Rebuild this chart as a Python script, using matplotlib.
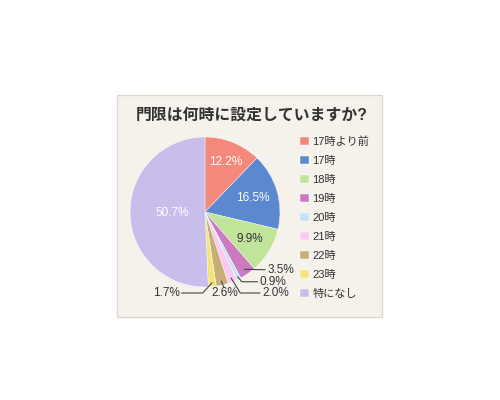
import numpy as np
import matplotlib.pyplot as plt
from matplotlib.patches import Rectangle

plt.rcParams['font.family'] = ['Liberation Sans', 'Noto Sans CJK JP', 'DejaVu Sans']

# data
title = '門限は何時に設定していますか?'
labels = ['17時より前', '17時', '18時', '19時', '20時', '21時', '22時', '23時', '特になし']
values = [12.2, 16.5, 9.9, 3.5, 0.9, 2.0, 2.6, 1.7, 50.7]
colors = ['#F4887A', '#5B88CF', '#BFE49A', '#CC79BF', '#C4E4F6',
          '#FBC9F1', '#C7AE78', '#F2E57A', '#C9BEEB']

fig = plt.figure(figsize=(5, 4), dpi=100)
fig.patches.append(Rectangle((0.234, 0.2075), 0.53, 0.555, transform=fig.transFigure,
                             facecolor='#F4F2EB', edgecolor='#DCD9CF', lw=1, zorder=-1))

ax = fig.add_axes([0.11, 0.095, 0.6, 0.75])
wedges, _ = ax.pie(values, colors=colors, startangle=90, counterclock=False,
                   wedgeprops=dict(linewidth=0.3, edgecolor='white'))
ax.set_xlim(-2, 2)
ax.set_ylim(-2, 2)
ax.axis('off')

def mid_angle(w):
    return np.deg2rad((w.theta1 + w.theta2) / 2)

# labels inside the big slices
inside = {0: (0.72, 'white'), 1: (0.66, 'white'), 2: (0.70, '#333333'), 8: (0.44, 'white')}
for i, (r, c) in inside.items():
    a = mid_angle(wedges[i])
    ax.text(r * np.cos(a), r * np.sin(a), f'{values[i]:.1f}%', ha='center', va='center',
            fontsize=8.5, color=c)

# labels outside with leader lines: (start radius, [line points], text pos, ha)
outside = {
    3: (0.93, [(0.80, -0.77)], (0.83, -0.77), 'left'),
    4: (0.97, [(0.49, -0.93), (0.70, -0.93)], (0.72, -0.93), 'left'),
    5: (0.95, [(0.47, -1.08), (0.73, -1.08)], (0.76, -1.08), 'left'),
    6: (0.95, [(0.25, -1.00)], (0.27, -1.08), 'center'),
    7: (0.95, [(-0.03, -1.08), (-0.31, -1.08)], (-0.33, -1.08), 'right'),
}
for i, (r, pts, tp, ha) in outside.items():
    a = mid_angle(wedges[i])
    xs = [r * np.cos(a)] + [p[0] for p in pts]
    ys = [r * np.sin(a)] + [p[1] for p in pts]
    ax.plot(xs, ys, color='#444444', lw=0.8)
    ax.text(tp[0], tp[1], f'{values[i]:.1f}%', ha=ha, va='center', fontsize=8.5, color='#333333')

fig.text(0.504, 1 - 115 / 400, title, ha='center', va='center', fontsize=11.4,
         fontweight='bold', color='#333333')

fig.legend(wedges, labels, loc='upper left', bbox_to_anchor=(0.6, 1 - 136 / 400),
           frameon=False, borderpad=0, borderaxespad=0, handlelength=0.8, handleheight=0.8,
           handletextpad=0.3, labelspacing=0.8, fontsize=8, labelcolor='#333333')

plt.savefig('out.png', dpi=100)
